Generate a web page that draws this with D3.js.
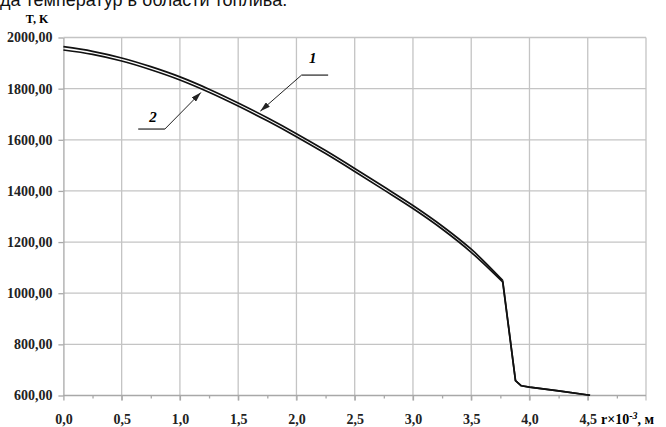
<!DOCTYPE html>
<html lang="ru">
  <head>
    <meta charset="utf-8" />
    <script src="https://cdn.jsdelivr.net/npm/d3@7/dist/d3.min.js"></script>
    <title>T(r)</title>
    <style>
      body { margin: 0; background: #fff; }
      .tick text { font-family: "Liberation Serif", "Times New Roman", serif; font-weight: bold; font-size: 14px; fill: #222; }
      .grid line { stroke: #c4c4c4; stroke-width: 1.3; }
      .axis path, .axis line { stroke: #a8a8a8; stroke-width: 1.3; }
      .curve { fill: none; stroke: #111; stroke-width: 1.7; stroke-linejoin: round; }
    </style>
  </head>
  <body>
    <div id="container"></div>

    <script type="module">
      const width = 666;
      const height = 427;

      // radius, mm (r x 10^-3 m)
      const r = [0, 0.25, 0.5, 0.75, 1.0, 1.25, 1.5, 1.75, 2.0, 2.25, 2.5, 2.75, 3.0, 3.25, 3.5, 3.77, 3.88, 3.93, 4.0, 4.25, 4.52];
      // curve 1 (upper), K
      const t1 = [1964, 1946, 1920, 1886, 1846, 1798, 1744, 1686, 1624, 1558, 1488, 1416, 1343, 1263, 1172, 1050, 658, 638, 633, 618, 601];
      // curve 2 (lower), K
      const t2 = [1951, 1934, 1908, 1874, 1834, 1786, 1732, 1674, 1612, 1546, 1476, 1404, 1331, 1251, 1160, 1044, 658, 638, 633, 618, 601];
      const peak = 15; // index of the kink where the smooth part ends

      const xTicks = [0, 0.5, 1.0, 1.5, 2.0, 2.5, 3.0, 3.5, 4.0, 4.5];
      const xMinor = [0.25, 0.75, 1.25, 1.75, 2.25, 2.75, 3.25, 3.75, 4.25, 4.75];
      const xGrid = [0.5, 1.0, 1.5, 2.0, 2.5, 3.0, 3.5, 4.0, 4.5, 5.0];
      const yTicks = [600, 800, 1000, 1200, 1400, 1600, 1800, 2000];

      // callouts: label, text position, leader start/end, arrow tip
      const labels = ["1", "2"];
      const labelPos = [[2.14, 1900], [0.77, 1670]];
      const shelfFrom = [[2.044, 1853], [0.642, 1642]];
      const shelfTo = [[2.272, 1853], [0.871, 1642]];
      const arrowTip = [[1.69, 1712], [1.18, 1785]];

      const svg = d3.select("#container").append("svg").attr("width", width).attr("height", height);

      const x = d3.scaleLinear().domain([0, 5]).range([63.4, 646]);
      const y = d3.scaleLinear().domain([600, 2000]).range([395.5, 37.5]);

      const comma = (f) => (d) => f(d).replace(".", ",");

      // grid
      const grid = svg.append("g").attr("class", "grid");
      grid.selectAll("line.v").data(xGrid).enter().append("line")
        .attr("x1", (d) => x(d)).attr("x2", (d) => x(d))
        .attr("y1", y(2000)).attr("y2", y(600) + 5);
      grid.selectAll("line.h").data(yTicks.slice(1)).enter().append("line")
        .attr("x1", x(0)).attr("x2", x(5))
        .attr("y1", (d) => y(d)).attr("y2", (d) => y(d));

      // axes
      svg.append("g").attr("class", "axis")
        .attr("transform", `translate(0,${y(600)})`)
        .call(d3.axisBottom(x).tickValues(xTicks).tickSize(5).tickPadding(14).tickSizeOuter(0).tickFormat(comma(d3.format(".1f"))))
        .call((g) => g.select(".domain").attr("d", `M${x(0)},0H${x(5)}`));
      svg.append("g").attr("class", "axis")
        .attr("transform", `translate(0,${y(600)})`)
        .call(d3.axisBottom(x).tickValues(xMinor).tickSize(3).tickFormat(""))
        .call((g) => g.select(".domain").remove());
      svg.append("g").attr("class", "axis")
        .attr("transform", `translate(${x(0)},0)`)
        .call(d3.axisLeft(y).tickValues(yTicks).tickSize(5).tickPadding(6).tickSizeOuter(0).tickFormat(comma(d3.format(".2f"))));

      // curves: smooth part up to the kink, then straight segments
      const smooth = d3.line().curve(d3.curveMonotoneX).x((d) => x(d[0])).y((d) => y(d[1]));
      const straight = d3.line().x((d) => x(d[0])).y((d) => y(d[1]));
      [t1, t2].forEach((t) => {
        const pts = r.map((v, i) => [v, t[i]]);
        svg.append("path").attr("class", "curve").attr("d", smooth(pts.slice(0, peak + 1)));
        svg.append("path").attr("class", "curve").attr("d", straight(pts.slice(peak)));
      });

      // callouts
      svg.append("defs").append("marker")
        .attr("id", "arr").attr("viewBox", "0 0 10 6").attr("refX", 10).attr("refY", 3)
        .attr("markerWidth", 10).attr("markerHeight", 6).attr("markerUnits", "userSpaceOnUse").attr("orient", "auto")
        .append("path").attr("d", "M0,0L10,3L0,6Z").attr("fill", "#222");
      labels.forEach((lab, i) => {
        svg.append("line")
          .attr("x1", x(shelfFrom[i][0])).attr("y1", y(shelfFrom[i][1]))
          .attr("x2", x(shelfTo[i][0])).attr("y2", y(shelfTo[i][1]))
          .attr("stroke", "#222").attr("stroke-width", 1.2);
        const start = i === 0 ? shelfFrom[i] : shelfTo[i];
        svg.append("line")
          .attr("x1", x(start[0])).attr("y1", y(start[1]))
          .attr("x2", x(arrowTip[i][0])).attr("y2", y(arrowTip[i][1]))
          .attr("stroke", "#222").attr("stroke-width", 1).attr("marker-end", "url(#arr)");
        svg.append("text").attr("x", x(labelPos[i][0])).attr("y", y(labelPos[i][1]))
          .attr("text-anchor", "middle")
          .style("font-family", "Liberation Serif, serif").style("font-style", "italic").style("font-weight", "bold").style("font-size", "15px")
          .text(lab);
      });

      // titles
      svg.append("text").attr("x", 37).attr("y", 23).attr("text-anchor", "middle")
        .style("font-family", "Liberation Serif, serif").style("font-weight", "bold").style("font-size", "12px")
        .text("T, K");
      const xt = svg.append("text").attr("x", 601).attr("y", y(600) + 28)
        .style("font-family", "Liberation Serif, serif").style("font-weight", "bold").style("font-size", "14px");
      xt.append("tspan").text("r×10");
      xt.append("tspan").attr("dy", -5).style("font-size", "10px").style("font-style", "italic").text("-3");
      xt.append("tspan").attr("dy", 5).text(", м");

      svg.append("text").attr("x", 0).attr("y", 6)
        .style("font-family", "Liberation Sans, Arial, sans-serif").style("font-size", "18px").attr("fill", "#111")
        .text("да температур в области топлива.");
    </script>
  </body>
</html>
